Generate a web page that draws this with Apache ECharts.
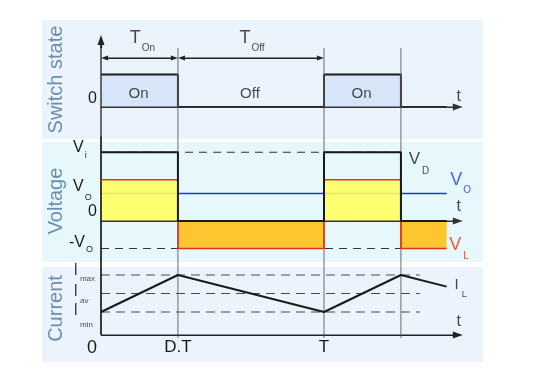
<!DOCTYPE html>
<html><head><meta charset="utf-8">
<script src="https://cdn.jsdelivr.net/npm/echarts@6/dist/echarts.min.js"></script>
<style>html,body{margin:0;padding:0;background:#fff}#c{width:540px;height:382px}</style>
</head><body><div id="c"></div>
<script>
// ---------------- data ----------------
const D = 0.345;            // on-time fraction of the period
const T = 1;                // switching period
const tEnd = 1.55;          // last drawn instant of the waveforms
const tAxisEnd = 1.60;      // end of the time axes
const stepTimes   = [0, D, D, T, T, T + D, T + D, tEnd];
const switchState = [1, 1, 0, 0, 1, 1, 0, 0];
const vDiode      = [2.5, 2.5, 0, 0, 2.5, 2.5, 0, 0];
const vInductor   = [1.5, 1.5, -1, -1, 1.5, 1.5, -1, -1];
const vOut = 1;
const vIn = 2.5;
const currentTimes = [0, D, T, T + D, tEnd];
const iInductor    = [1.15, 3, 1.15, 3, 2.42];
const iLevelValues = [3, 2.075, 1.15];
const iLevelNames  = ['max', 'av', 'min'];
const vTickValues  = [2.5, 1, 0, -1];
const vTickLabels  = ['{vm1|V}{vs1|i}', '{vm2|V}{vs2|O}', '{z0|0}', '{vm3|-V}{vs3|O}'];
const tTickValues  = [0, D, T];
const tTickLabels  = ['{x0|0}', '{xl|D.T}', '{xl|T}'];
const switchLabels = ['On', 'Off', 'On'];
const switchMid    = [D / 2, (D + T) / 2, T + D / 2];
const separatorTimes = [D, T, T + D];

// ---------------- layout / style ----------------
const FONT = 'Liberation Sans, Arial, sans-serif';
const X_MIN = -0.264574, X_MAX = 1.713004;
const panels = [
  {top: 20,  height: 119, min: -0.985,  max: 2.677,  bg: '#ebf4fd', name: 'Switch state', namePad: [0, 0, 0, 0]},
  {top: 142, height: 120, min: -1.4909, max: 2.8727, bg: '#e7f8fc', name: 'Voltage', namePad: [0, 0, 0, 2]},
  {top: 267, height: 95,  min: -1.35,   max: 3.4,    bg: '#ebf4fd', name: 'Current', namePad: [0, 0, 0, 12]}
];
function pxToY(i, px) { const p = panels[i]; return p.max - (px - p.top) / p.height * (p.max - p.min); }
const ARROW_INSET = 0.016;
const YELLOW = '#ffff5c', ORANGE = '#fdc52f', RED = '#e2321f', BLUE = '#2236d8', INK = '#1a1a1a';

const RICH = {
  tm: {fontSize: 18, fontFamily: FONT, color: INK},
  ts: {fontSize: 10, fontFamily: FONT, color: INK, padding: [20, 0, 0, 1]},
  vm1: {fontSize: 16, fontFamily: FONT, color: INK, padding: [0, 0, 10, 4]},
  vs1: {fontSize: 9, fontFamily: FONT, color: INK, padding: [6, 0, 0, 1]},
  vm2: {fontSize: 16, fontFamily: FONT, color: INK, padding: [0, 0, 14, 4]},
  vs2: {fontSize: 9, fontFamily: FONT, color: INK, padding: [8, 0, 0, 1]},
  z0: {fontSize: 16, fontFamily: FONT, color: INK, padding: [0, 0, 18, 19]},
  zt: {fontSize: 16, fontFamily: FONT, color: INK, padding: [0, 0, 16, 19]},
  vm3: {fontSize: 16, fontFamily: FONT, color: INK, padding: [0, 0, 12, 0]},
  vs3: {fontSize: 9, fontFamily: FONT, color: INK, padding: [2, 0, 0, 1]},
  im1: {fontSize: 16, fontFamily: FONT, color: INK, padding: [0, 0, 8, 0]},
  is1: {fontSize: 8, fontFamily: FONT, color: INK, padding: [8, 0, 0, 2]},
  im2: {fontSize: 16, fontFamily: FONT, color: INK, padding: [0, 0, 4, 0]},
  is2: {fontSize: 8, fontFamily: FONT, color: INK, padding: [14, 0, 0, 2]},
  im3: {fontSize: 16, fontFamily: FONT, color: INK, padding: [0, 0, 2, 0]},
  is3: {fontSize: 8, fontFamily: FONT, color: INK, padding: [26, 0, 0, 2]},
  x0: {fontSize: 18, fontFamily: FONT, color: INK, padding: [0, 18, 0, 0]},
  xl: {fontSize: 17, fontFamily: FONT, color: INK},
  dm: {fontSize: 17, fontFamily: FONT, color: INK},
  ds: {fontSize: 10, fontFamily: FONT, color: INK, padding: [24, 0, 0, 2]},
  bm: {fontSize: 18, fontFamily: FONT, color: BLUE},
  bs: {fontSize: 10, fontFamily: FONT, color: BLUE, padding: [20, 0, 0, 1]},
  rm: {fontSize: 18, fontFamily: FONT, color: RED},
  rs: {fontSize: 10, fontFamily: FONT, color: RED, padding: [22, 0, 0, 2]},
  lm: {fontSize: 15, fontFamily: FONT, color: INK},
  ls: {fontSize: 9, fontFamily: FONT, color: INK, padding: [20, 0, 0, 3]},
  tt: {fontSize: 16, fontFamily: FONT, color: INK},
  sw: {fontSize: 15, fontFamily: FONT, color: INK}
};

function pts(xs, ys) { return xs.map((x, i) => [x, ys[i]]); }
function nearestIndex(values, v) {
  let best = 0;
  values.forEach((x, i) => { if (Math.abs(x - v) < Math.abs(values[best] - v)) best = i; });
  return best;
}
function line(gi, data, style, extra) {
  return Object.assign({type: 'line', xAxisIndex: gi, yAxisIndex: gi, data, symbol: 'none', showSymbol: false,
    silent: true, clip: false, z: 4, lineStyle: style}, extra || {});
}
function arrow(gi, from, to, symbols, size, color, width) {
  return {type: 'line', xAxisIndex: gi, yAxisIndex: gi, data: [from, to], symbol: 'none', showSymbol: false,
    silent: true, clip: false, z: 6, lineStyle: {color, width},
    markLine: {silent: true, animation: false, symbol: symbols, symbolSize: size, label: {show: false},
      emphasis: {disabled: true}, lineStyle: {color, width, type: 'solid'},
      data: [[{coord: from}, {coord: to}]]}};
}
function texts(gi, items) {
  return {type: 'scatter', xAxisIndex: gi, yAxisIndex: gi, symbolSize: 1, itemStyle: {color: 'rgba(0,0,0,0)'},
    silent: true, z: 10, clip: false,
    label: {show: true, position: 'inside', color: INK, fontFamily: FONT, textBorderWidth: 0, rich: RICH},
    data: items.map(it => ({value: [it.x, it.y],
      label: Object.assign({formatter: it.text, offset: it.offset}, it.align ? {align: it.align} : {})}))};
}

const grids = panels.map(p => ({left: 42, right: 57, top: p.top, height: p.height, show: true,
  backgroundColor: p.bg, borderWidth: 0, containLabel: false, outerBoundsMode: 'none'}));

const xAxes = panels.map((p, i) => ({
  type: 'value', gridIndex: i, min: X_MIN, max: X_MAX, show: i === 2,
  axisLine: {show: false, onZero: false}, axisTick: {show: false}, splitLine: {show: false},
  axisLabel: i === 2 ? {show: true, customValues: tTickValues, margin: -23, rich: RICH, hideOverlap: false,
    formatter: v => tTickLabels[nearestIndex(tTickValues, v)]} : {show: false}
}));

const yLabelCfg = [
  {values: [0], fmt: () => '{zt|0}'},
  {values: vTickValues, fmt: v => vTickLabels[nearestIndex(vTickValues, v)]},
  null
];
const yAxes = panels.map((p, i) => ({
  type: 'value', gridIndex: i, min: p.min, max: p.max,
  axisLine: {show: false, onZero: false}, axisTick: {show: false}, splitLine: {show: false},
  name: p.name, nameLocation: 'middle', nameRotate: 90, nameGap: -24, nameMoveOverlap: false,
  nameTextStyle: {fontSize: 20, color: '#6b8db0', fontFamily: FONT, padding: p.namePad},
  axisLabel: yLabelCfg[i] ? {show: true, customValues: yLabelCfg[i].values, formatter: yLabelCfg[i].fmt,
    align: 'left', margin: -27, rich: RICH, hideOverlap: false} : {show: false}
}));

const series = [];
// ---- top panel: switch state ----
series.push(line(0, pts(stepTimes, switchState), {color: INK, width: 2}, {areaStyle: {color: '#d6e6f8', opacity: 1}, z: 3}));
series.push(arrow(0, [0, 0], [tAxisEnd, 0], ['none', 'triangle'], [7, 10], '#333', 1.2));
series.push(line(0, [[0, pxToY(0, 40)], [0, pxToY(0, 335)]], {color: '#222', width: 1.3}, {z: 6}));
series.push(arrow(0, [0, pxToY(0, 48)], [0, pxToY(0, 40)], ['none', 'triangle'], [7, 10], '#222', 1.3));
separatorTimes.forEach(t => series.push(line(0, [[t, pxToY(0, 48)], [t, pxToY(0, 338)]], {color: '#6a6a6a', width: 1}, {z: 5})));
series.push(arrow(0, [ARROW_INSET, pxToY(0, 58)], [D - ARROW_INSET, pxToY(0, 58)], ['triangle', 'triangle'], [5, 7], '#222', 1));
series.push(arrow(0, [D + ARROW_INSET, pxToY(0, 58)], [T - ARROW_INSET, pxToY(0, 58)], ['triangle', 'triangle'], [5, 7], '#222', 1));
series.push(texts(0, [
  {x: D / 2, y: pxToY(0, 58), text: '{tm|T}{ts|On}', offset: [3, -19.5]},
  {x: (D + T) / 2, y: pxToY(0, 58), text: '{tm|T}{ts|Off}', offset: [1, -19.5]},
  {x: tAxisEnd, y: 0, text: '{tt|t}', offset: [1, -10]}
].concat(switchLabels.map((s, i) => ({x: switchMid[i], y: 0.5, text: '{sw|' + s + '}', offset: [-1, 3]})))));

// ---- middle panel: voltages ----
series.push(line(1, [[0, vOut], [tEnd, vOut]], {color: BLUE, width: 1.5}, {z: 2}));
series.push(line(1, pts(stepTimes, vInductor.map(v => Math.max(v, 0))), {width: 0, opacity: 0}, {areaStyle: {color: YELLOW, opacity: 0.88}, z: 3}));
series.push(line(1, pts(stepTimes, vInductor.map(v => Math.min(v, 0))), {width: 0, opacity: 0}, {areaStyle: {color: ORANGE, opacity: 1}, z: 3}));
series.push(line(1, [[0, vIn], [T + D, vIn]], {color: '#333', width: 1, type: [8, 6]}, {z: 3}));
series.push(line(1, [[0, -vOut], [T + D, -vOut]], {color: '#333', width: 1, type: [8, 6]}, {z: 3}));
series.push(arrow(1, [0, 0], [tAxisEnd, 0], ['none', 'triangle'], [7, 10], '#333', 1.2));
series.push(line(1, [[0, panels[1].max + 0.2], [0, pxToY(1, 267)]], {color: '#222', width: 1.3}, {z: 6}));
series.push(line(1, pts(stepTimes, vInductor), {color: RED, width: 1.6}, {z: 7}));
series.push(line(1, pts(stepTimes, vDiode), {color: INK, width: 2}, {z: 8}));
series.push(texts(1, [
  {x: T + D, y: vIn, text: '{dm|V}{ds|D}', offset: [18, 7]},
  {x: tEnd, y: vOut, text: '{bm|V}{bs|O}', offset: [14, -13]},
  {x: tEnd, y: -vOut, text: '{rm|V}{rs|L}', offset: [12.5, -3.5]},
  {x: tAxisEnd, y: 0, text: '{tt|t}', offset: [1, -14]}
]));

// ---- bottom panel: inductor current ----
iLevelValues.forEach(v => series.push(line(2, [[0, v], [1.43, v]], {color: '#4a4a4a', width: 1, type: [9, 6]}, {z: 3})));
series.push(arrow(2, [0, 0], [tAxisEnd, 0], ['none', 'triangle'], [7, 10], '#222', 1.2));
series.push(line(2, [[0, panels[2].max], [0, 0]], {color: '#222', width: 1.3}, {z: 6}));
series.push(line(2, pts(currentTimes, iInductor), {color: INK, width: 2}, {z: 8}));
series.push(texts(2, [
  {x: tEnd, y: iInductor[iInductor.length - 1], text: '{lm|I}{ls|L}', offset: [14, -1.6]},
  {x: tAxisEnd, y: 0, text: '{tt|t}', offset: [1, -13]}
].concat(iLevelValues.map((v, k) => ({x: 0, y: v, align: 'left', offset: [-27.5, 0],
  text: '{im' + (k + 1) + '|I}{is' + (k + 1) + '|' + iLevelNames[k] + '}'})))));

const chart = echarts.init(document.getElementById('c'), null, {renderer: 'canvas'});
chart.setOption({
  animation: false,
  backgroundColor: '#ffffff',
  textStyle: {fontFamily: FONT},
  grid: grids, xAxis: xAxes, yAxis: yAxes, series
});
</script></body></html>
